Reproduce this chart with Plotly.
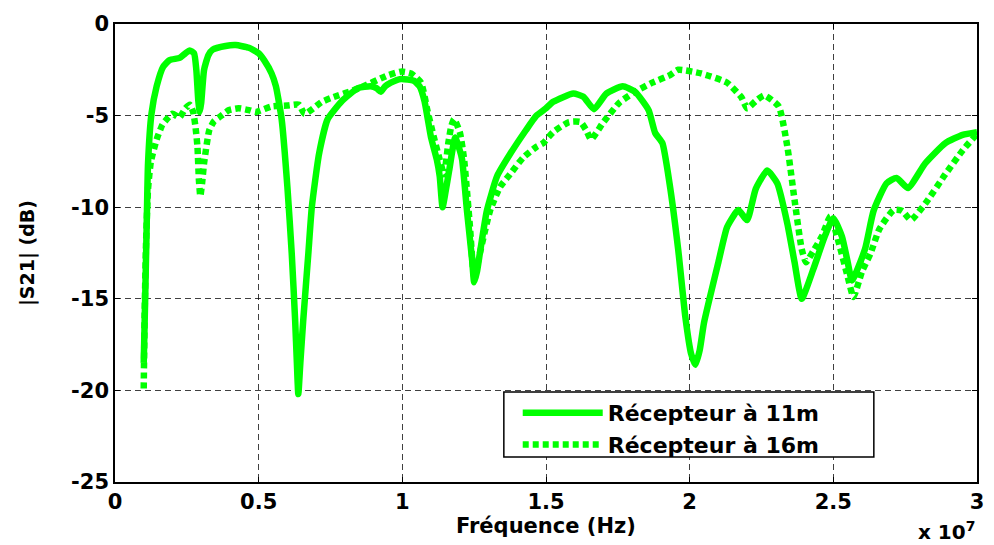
import plotly.graph_objects as go

# Frequencies in units of 1e7 Hz
freq_11m = [0.100, 0.105, 0.110, 0.115, 0.127, 0.145, 0.167, 0.19, 0.225, 0.245, 0.26, 0.275, 0.283, 0.29, 0.295, 0.30,
            0.31, 0.325, 0.34, 0.385, 0.42, 0.466, 0.50, 0.52, 0.545, 0.56, 0.58, 0.60, 0.615, 0.627, 0.633, 0.638,
            0.645, 0.655, 0.673, 0.685, 0.71, 0.74, 0.79, 0.846, 0.89, 0.91, 0.925, 0.94, 0.96, 0.995, 1.04, 1.06,
            1.077, 1.10, 1.12, 1.13, 1.14, 1.15, 1.163, 1.184, 1.20, 1.208, 1.225, 1.243, 1.25, 1.26, 1.27, 1.294,
            1.33, 1.375, 1.43, 1.467, 1.50, 1.525, 1.595, 1.63, 1.667, 1.71, 1.767, 1.81, 1.857, 1.88, 1.905, 1.93,
            1.96, 1.985, 2.005, 2.02, 2.035, 2.05, 2.10, 2.13, 2.16, 2.17, 2.20, 2.23, 2.27, 2.305, 2.34, 2.365,
            2.39, 2.43, 2.47, 2.50, 2.53, 2.55, 2.565, 2.61, 2.64, 2.685, 2.72, 2.76, 2.82, 2.89, 2.95, 3.0]
s21_11m = [-18.5, -15.0, -11.2, -7.6, -4.9, -3.4, -2.35, -1.97, -1.85, -1.6, -1.45, -1.6, -2.5, -4.2, -4.8, -4.3,
           -2.5, -1.7, -1.4, -1.2, -1.15, -1.3, -1.6, -2.0, -2.7, -3.4, -5.2, -8.9, -12.5, -16.2, -18.5, -20.2,
           -18.5, -16.2, -12.5, -10.0, -7.1, -5.2, -4.2, -3.5, -3.4, -3.5, -3.7, -3.4, -3.2, -3.0, -3.1, -3.4,
           -4.2, -6.2, -7.4, -8.3, -10.0, -9.2, -8.0, -6.2, -6.9, -7.4, -10.2, -12.9, -14.1, -13.5, -12.5, -10.2,
           -8.3, -7.1, -5.8, -5.0, -4.6, -4.25, -3.8, -3.97, -4.65, -3.8, -3.4, -3.7, -4.7, -5.95, -6.5, -8.7,
           -12.3, -16.0, -18.0, -18.6, -17.8, -16.3, -13.0, -11.1, -10.3, -10.15, -10.7, -9.0, -8.0, -8.7, -10.9, -13.0,
           -15.0, -13.4, -11.6, -10.6, -11.6, -13.0, -14.0, -12.3, -10.2, -8.7, -8.4, -8.95, -7.6, -6.5, -6.05, -5.9]

freq_16m = [0.100, 0.103, 0.108, 0.115, 0.125, 0.145, 0.165, 0.18, 0.20, 0.224, 0.245, 0.26, 0.272, 0.28, 0.287,
            0.292, 0.297, 0.303, 0.31, 0.328, 0.345, 0.362, 0.397, 0.43, 0.466, 0.49, 0.545, 0.60, 0.64, 0.66, 0.72,
            0.75, 0.85, 0.95, 0.995, 1.03, 1.065, 1.087, 1.11, 1.13, 1.145, 1.16, 1.17, 1.18, 1.20, 1.215, 1.235,
            1.25, 1.27, 1.305, 1.34, 1.375, 1.42, 1.467, 1.49, 1.525, 1.58, 1.62, 1.64, 1.657, 1.698, 1.755, 1.81,
            1.87, 1.93, 1.96, 2.04, 2.13, 2.18, 2.20, 2.23, 2.26, 2.31, 2.34, 2.365, 2.39, 2.405, 2.43, 2.46, 2.49,
            2.52, 2.55, 2.57, 2.60, 2.63, 2.66, 2.71, 2.74, 2.77, 2.82, 2.89, 2.95, 3.0]
s21_16m = [-19.9, -16.0, -12.0, -9.0, -7.5, -6.3, -5.5, -5.2, -4.9, -5.1, -4.6, -4.4, -4.8, -5.6, -6.7,
           -8.5, -9.4, -8.7, -7.6, -5.8, -5.3, -5.1, -4.7, -4.6, -4.7, -4.8, -4.5, -4.45, -4.4, -4.9, -4.25,
           -4.05, -3.5, -2.8, -2.6, -2.7, -3.2, -4.7, -6.2, -7.4, -8.2, -6.5, -5.6, -5.2, -5.9, -7.4, -11.0,
           -13.8, -12.5, -10.2, -8.9, -8.2, -7.3, -6.7, -6.5, -5.9, -5.35, -5.35, -5.8, -6.3, -5.4, -4.3, -3.7,
           -3.2, -2.8, -2.5, -2.7, -3.2, -4.0, -4.6, -4.2, -3.9, -4.5, -6.7, -9.6, -12.3, -13.0, -12.4, -11.6, -10.5,
           -12.0, -13.8, -14.9, -13.5, -12.5, -11.2, -10.15, -10.2, -10.7, -9.8, -8.2, -6.9, -6.0]

series_names = ["Récepteur à 11m", "Récepteur à 16m"]
x_ticks = [0, 0.5, 1, 1.5, 2, 2.5, 3]
x_tick_labels = ["0", "0.5", "1", "1.5", "2", "2.5", "3"]
y_ticks = [0, -5, -10, -15, -20, -25]
y_tick_labels = ["0", "-5", "-10", "-15", "-20", "-25"]

GREEN = "#00FF00"
FONT = "DejaVu Sans"

fig = go.Figure()
fig.add_trace(go.Scatter(x=freq_11m, y=s21_11m, mode="lines", name="<b>" + series_names[0] + "</b>",
                         line=dict(color=GREEN, width=6.5, shape="spline", smoothing=0.5)))
fig.add_trace(go.Scatter(x=freq_16m, y=s21_16m, mode="lines", name="<b>" + series_names[1] + "</b>",
                         line=dict(color=GREEN, width=6.5, dash="6px,4px", shape="spline", smoothing=0.5)))

axis_common = dict(showline=True, linecolor="black", linewidth=1.5, mirror="ticks",
                   ticks="inside", ticklen=5, tickcolor="black",
                   showgrid=True, gridcolor="rgba(0,0,0,0.75)", gridwidth=1, griddash="6px,4px",
                   zeroline=False,
                   tickfont=dict(family=FONT, size=21, color="black"))

fig.update_xaxes(range=[0, 3], tickvals=x_ticks, ticktext=["<b>" + t + "</b>" for t in x_tick_labels],
                 **axis_common)
fig.update_yaxes(range=[-25, 0], tickvals=y_ticks, ticktext=["<b>" + t + "</b>" for t in y_tick_labels],
                 **axis_common)

# Legend frame (paper coordinates of the reference box)
plot_w, plot_h, left, bottom_px = 869, 458, 115, 482
def px_x(p):
    return (p - left) / plot_w
def px_y(p):
    return (bottom_px - p) / plot_h

fig.update_layout(
    width=994, height=545,
    margin=dict(l=115, r=10, t=24, b=63),
    plot_bgcolor="white", paper_bgcolor="white",
    showlegend=True,
    legend=dict(x=px_x(521), y=px_y(392), xanchor="left", yanchor="top",
                bgcolor="rgba(0,0,0,0)", borderwidth=0,
                font=dict(family=FONT, size=22, color="black"),
                itemwidth=80, tracegroupgap=0),
    shapes=[dict(type="rect", xref="paper", yref="paper",
                 x0=px_x(507), x1=px_x(880), y0=px_y(457), y1=px_y(392),
                 line=dict(color="black", width=1.5), fillcolor="white", layer="above")],
    annotations=[
        dict(text="<b>Fréquence (Hz)</b>", xref="paper", yref="paper", x=0.5, y=-0.097,
             xanchor="center", yanchor="middle", showarrow=False,
             font=dict(family=FONT, size=21, color="black")),
        dict(text="<b>|S21| (dB)</b>", xref="paper", yref="paper", x=-0.102, y=0.5,
             xanchor="center", yanchor="middle", textangle=-90, showarrow=False,
             font=dict(family=FONT, size=19, color="black")),
        dict(text="<b>x 10<sup>7</sup></b>", xref="paper", yref="paper", x=1.0, y=-0.107,
             xanchor="right", yanchor="middle", showarrow=False,
             font=dict(family=FONT, size=20, color="black")),
    ],
)

fig.write_html("out.html")
